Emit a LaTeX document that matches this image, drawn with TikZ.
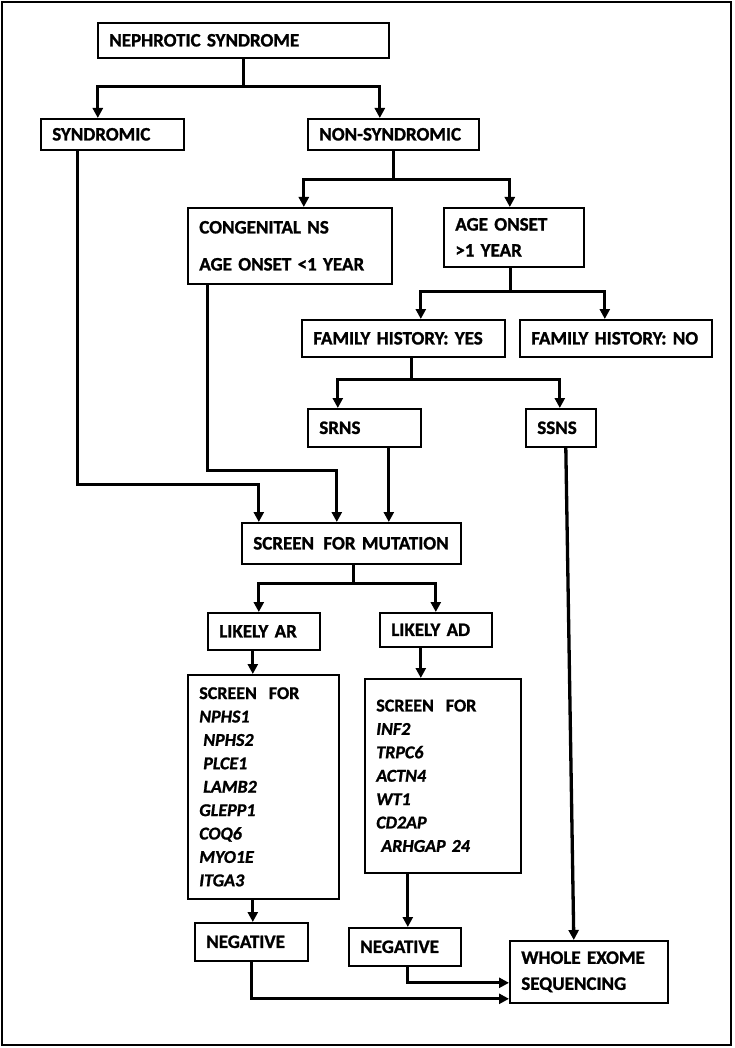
\documentclass[tikz,border=0pt]{standalone}
\usepackage{fontspec}
\setmainfont{Carlito}[BoldFeatures={FakeBold=1.2}, BoldItalicFeatures={FakeBold=1.2}]
\usetikzlibrary{arrows.meta}

\begin{document}
\begin{tikzpicture}[x=1pt, y=-1pt,
		every node/.style = {shape=rectangle, draw, line width=1.6pt, anchor=north west, align=left, inner xsep=11.5pt, inner ysep=0pt, font=\fontsize{19}{26}\selectfont\bfseries},
		genes/.style = {font=\fontsize{18}{23.4}\selectfont\bfseries},
		link/.style = {line width=3.3pt, -{Triangle[length=10pt, width=10pt]}}]
	\useasboundingbox (0,0) rectangle (735,1048);
	\draw[line width=2.8pt] (2,2) rectangle (731,1045);

	\node[text width=268pt, minimum height=35pt] (ns) at (97,22) {NEPHROTIC SYNDROME};
	\node[text width=120pt, minimum height=31pt] (syn) at (40,118) {SYNDROMIC};
	\node[text width=148pt, minimum height=31pt] (nonsyn) at (307,118) {NON-SYNDROMIC};
	\node[text width=181pt, minimum height=76pt] (cong) at (187,207) {CONGENITAL NS\\[11pt]AGE ONSET <1 YEAR};
	\node[text width=117pt, minimum height=59pt] (age) at (443,207) {AGE ONSET\\>1 YEAR};
	\node[text width=180pt, minimum height=37pt] (fhyes) at (301,319) {FAMILY HISTORY: YES};
	\node[text width=169pt, minimum height=37pt] (fhno) at (519,319) {FAMILY HISTORY: NO};
	\node[text width=90pt, minimum height=38pt] (srns) at (307,408) {SRNS};
	\node[text width=47pt, minimum height=38pt] (ssns) at (525,408) {SSNS};
	\node[text width=196pt, minimum height=41pt] (scr) at (241,522) {SCREEN\hspace{3pt} FOR MUTATION};
	\node[text width=89pt, minimum height=37pt] (ar) at (207,612) {LIKELY AR};
	\node[text width=89pt, minimum height=34pt] (ad) at (379,612) {LIKELY AD};
	\node[genes, text width=128pt, minimum height=224pt] (arlist) at (187,674) {SCREEN~ FOR\\
		{\itshape NPHS1}\\
		\hspace*{4pt}{\itshape NPHS2}\\
		\hspace*{4pt}{\itshape PLCE1}\\
		\hspace*{4pt}{\itshape LAMB2}\\
		{\itshape GLEPP1}\\
		{\itshape COQ6}\\
		{\itshape MYO1E}\\
		{\itshape ITGA3}};
	\node[genes, text width=133pt, minimum height=194pt] (adlist) at (364,678) {SCREEN~ FOR\\
		{\itshape INF2}\\
		{\itshape TRPC6}\\
		{\itshape ACTN4}\\
		{\itshape WT1}\\
		{\itshape CD2AP}\\
		\hspace*{5pt}{\itshape ARHGAP 24}};
	\node[text width=90pt, minimum height=38pt] (neg1) at (194,922) {NEGATIVE};
	\node[text width=89pt, minimum height=38pt] (neg2) at (348,927) {NEGATIVE};
	\node[text width=135pt, minimum height=62pt] (wes) at (509,940) {WHOLE EXOME\\SEQUENCING};

	\draw[link] (ns.south) -- ++(0,28) -| ([xshift=-14.5pt]syn.north);
	\draw[link] (ns.south) -- ++(0,28) -| ([xshift=-13.5pt]nonsyn.north);
	\draw[link] (nonsyn.south) -- ++(0,29) -| ([xshift=14pt]cong.north);
	\draw[link] (nonsyn.south) -- ++(0,29) -| ([xshift=-4pt]age.north);
	\draw[link] ([xshift=-3pt]age.south) -- ++(0,24) -| ([xshift=17.5pt]fhyes.north);
	\draw[link] ([xshift=-3pt]age.south) -- ++(0,24) -| ([xshift=-11pt]fhno.north);
	\draw[link] ([xshift=8.5pt]fhyes.south) -- ++(0,22) -| ([xshift=-26.5pt]srns.north);
	\draw[link] ([xshift=8.5pt]fhyes.south) -- ++(0,22) -| ([xshift=-1pt]ssns.north);
	\draw[link] ([xshift=-34.5pt]syn.south) -- ++(0,334) -| ([xshift=-92.5pt]scr.north);
	\draw[link] ([xshift=-82pt]cong.south) -- ++(0,186) -| ([xshift=-14.5pt]scr.north);
	\draw[link] ([xshift=24.5pt]srns.south) -- ([xshift=37.5pt]scr.north);
	\draw[link] ([xshift=5pt]ssns.south) -- ([xshift=-15pt]wes.north);
	\draw[link] ([xshift=2.5pt]scr.south) -- ++(0,19) -| ([xshift=-5pt]ar.north);
	\draw[link] ([xshift=2.5pt]scr.south) -- ++(0,19) -| (ad.north);
	\draw[link] ([xshift=-11pt]ar.south) -- ([xshift=-10.5pt]arlist.north);
	\draw[link] ([xshift=-15pt]ad.south) -- ([xshift=-22pt]adlist.north);
	\draw[link] ([xshift=-10.5pt]arlist.south) -- ([xshift=1.5pt]neg1.north);
	\draw[link] ([xshift=-35pt]adlist.south) -- ([xshift=3pt]neg2.north);
	\draw[link] (neg1.south) |- ([yshift=-27pt]wes.west);
	\draw[link] ([xshift=3pt]neg2.south) |- ([yshift=-11pt]wes.west);
\end{tikzpicture}
\end{document}
